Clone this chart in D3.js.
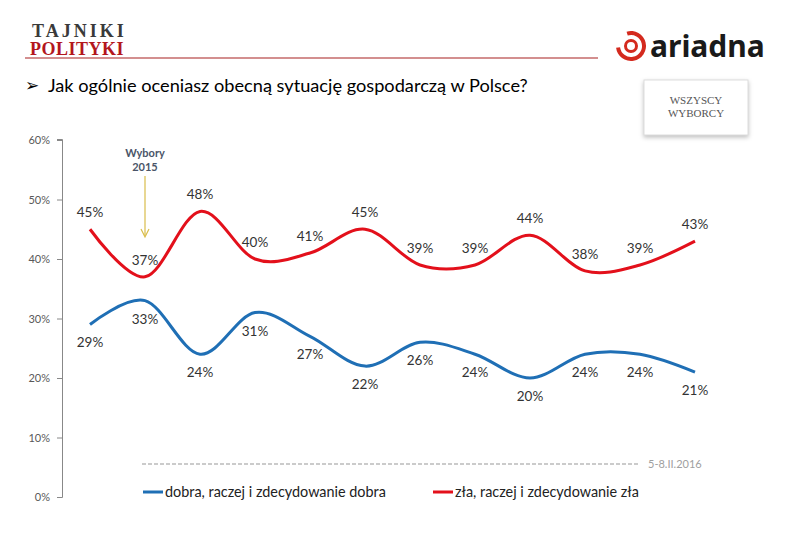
<!DOCTYPE html>
<html><head><meta charset="utf-8">
<script src="https://cdn.jsdelivr.net/npm/d3@7"></script>
<style>body{margin:0;background:#fff;} svg{display:block;}</style>
</head><body>
<script>
const waves = ["1","2","3","4","5","6","7","8","9","10","11","12"];
const dobra = [29,33,24,31,27,22,26,24,20,24,24,21];
const zla = [45,37,48,40,41,45,39,39,44,38,39,43];
const yTicks = [0,10,20,30,40,50,60];
const seriesNames = ["dobra, raczej i zdecydowanie dobra","zła, raczej i zdecydowanie zła"];
const colors = ["#1f6fb5","#e3101b"];

const W=788,H=539;
const svg=d3.select("body").append("svg").attr("width",W).attr("height",H);
const font="Lato, 'Open Sans', sans-serif";

// header
svg.append("text").attr("x",32).attr("y",37).text("TAJNIKI")
 .attr("font-family","'Liberation Serif',serif").attr("font-weight","bold").attr("font-size",18).attr("fill","#3a3a3a").attr("letter-spacing",3);
svg.append("text").attr("x",30).attr("y",55).text("POLITYKI")
 .attr("font-family","'Liberation Serif',serif").attr("font-weight","bold").attr("font-size",18).attr("fill","#b3161c").attr("letter-spacing",0.5);
svg.append("line").attr("x1",25).attr("x2",598).attr("y1",58).attr("y2",58).attr("stroke","#c46a6a").attr("stroke-width",1.5);

// ariadna logo
const lg=svg.append("g").attr("transform","translate(631,46)");
lg.append("path").attr("d",d3.arc()({innerRadius:11,outerRadius:15,startAngle:-0.3,endAngle:4.6})).attr("fill","#d42a1e");
lg.append("circle").attr("r",5.5).attr("fill","none").attr("stroke","#d42a1e").attr("stroke-width",3);
svg.append("text").attr("x",650).attr("y",57).text("ariadna").attr("font-family","'Noto Sans',sans-serif").attr("font-weight","bold").attr("font-size",30).attr("fill","#1a1a1a");

// box
svg.append("rect").attr("x",644).attr("y",80).attr("width",104).attr("height",55).attr("fill","#fff").attr("stroke","#ddd").style("filter","drop-shadow(0 2px 2px rgba(0,0,0,0.25))");
svg.append("text").attr("x",696).attr("y",104).attr("text-anchor","middle").text("WSZYSCY").attr("font-family","'Liberation Serif',serif").attr("font-size",11).attr("fill","#555");
svg.append("text").attr("x",696).attr("y",117).attr("text-anchor","middle").text("WYBORCY").attr("font-family","'Liberation Serif',serif").attr("font-size",11).attr("fill","#555");

// question
svg.append("text").attr("x",25).attr("y",91).text("➢").attr("font-family","'DejaVu Sans',sans-serif").attr("font-size",17).attr("fill","#000");
svg.append("text").attr("x",48).attr("y",92).text("Jak ogólnie oceniasz obecną sytuację gospodarczą w Polsce?")
 .attr("font-family",font).attr("font-size",18.2).attr("fill","#000");

// scales
const y=d3.scaleLinear().domain([0,60]).range([497,140]);
const x=d3.scalePoint().domain(waves).range([90,695]);

const ax=svg.append("g").attr("transform","translate(62,0)")
 .call(d3.axisLeft(y).tickValues(yTicks).tickSize(5).tickPadding(7).tickFormat(d=>d+"%"));
ax.selectAll("path,line").attr("stroke","#888");
ax.selectAll("text").attr("font-family",font).attr("font-size",11).attr("fill","#595959");
ax.select(".domain").attr("d","M-5,497.5H0.5V139.5H-5");

const line=d3.line().x((d,i)=>x(waves[i])).y(d=>y(d)).curve(d3.curveCardinal.tension(0));
[dobra,zla].forEach((s,k)=>{
  svg.append("path").datum(s).attr("d",line).attr("fill","none").attr("stroke",colors[k]).attr("stroke-width",3);
});
// labels
svg.selectAll(".lb").data(dobra).enter().append("text")
 .attr("x",(d,i)=>x(waves[i])).attr("y",d=>y(d)+23).attr("text-anchor","middle").text(d=>d+"%")
 .attr("font-family",font).attr("font-size",13.5).attr("fill","#333");
svg.selectAll(".lr").data(zla).enter().append("text")
 .attr("x",(d,i)=>x(waves[i])).attr("y",d=>y(d)-12).attr("text-anchor","middle").text(d=>d+"%")
 .attr("font-family",font).attr("font-size",13.5).attr("fill","#333");

// annotation
svg.append("text").attr("x",x(waves[1])).attr("y",157).attr("text-anchor","middle").text("Wybory")
 .attr("font-family",font).attr("font-weight","bold").attr("font-size",11).attr("fill","#4a5568");
svg.append("text").attr("x",x(waves[1])).attr("y",171).attr("text-anchor","middle").text("2015")
 .attr("font-family",font).attr("font-weight","bold").attr("font-size",11).attr("fill","#4a5568");
const ax2=x(waves[1]);
svg.append("line").attr("x1",ax2).attr("x2",ax2).attr("y1",176).attr("y2",236).attr("stroke","#d9bd4a").attr("stroke-width",1.2);
svg.append("path").attr("d",`M${ax2-4},${229}L${ax2},${237}L${ax2+4},${229}`).attr("fill","none").attr("stroke","#d9bd4a").attr("stroke-width",1.2);

// dashed line & date
svg.append("line").attr("x1",142).attr("x2",640).attr("y1",464).attr("y2",464).attr("stroke","#bbb").attr("stroke-width",1.5).attr("stroke-dasharray","4,2");
svg.append("text").attr("x",648).attr("y",468).text("5-8.II.2016").attr("font-family",font).attr("font-size",11).attr("fill","#a0a0a0");

// legend
const legX=[143,433];
seriesNames.forEach((n,k)=>{
  svg.append("line").attr("x1",legX[k]).attr("x2",legX[k]+20).attr("y1",492).attr("y2",492).attr("stroke",colors[k]).attr("stroke-width",3);
  svg.append("text").attr("x",legX[k]+22).attr("y",497).text(n).attr("font-family",font).attr("font-size",14.4).attr("fill","#222");
});
</script>
</body></html>
